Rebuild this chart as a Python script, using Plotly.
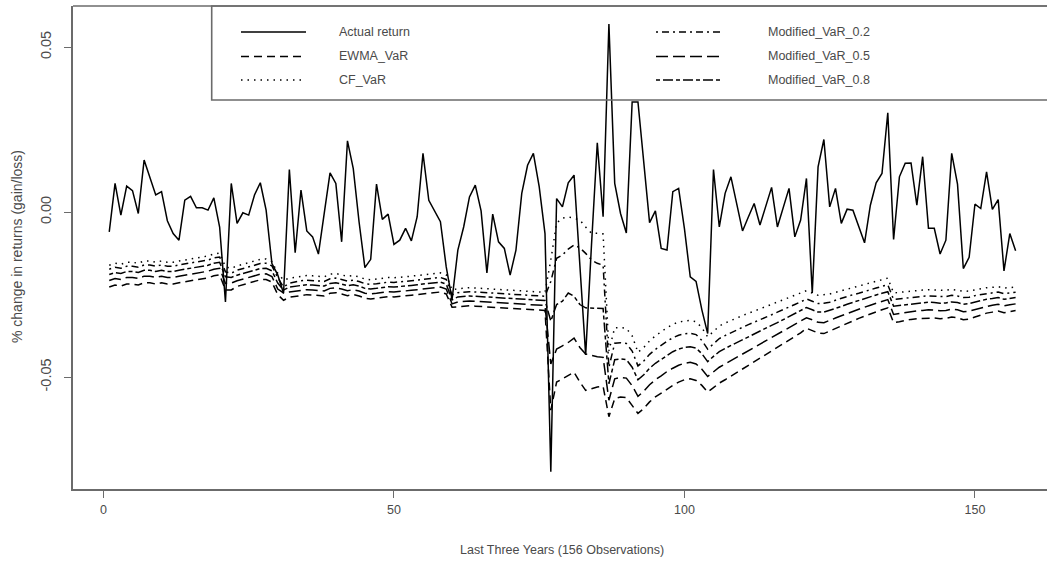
import plotly.graph_objects as go

# ---------------- data ----------------
observation = list(range(1, 158))

actual_return = [
    -0.0060, 0.0087, -0.0009, 0.0079, 0.0065, -0.0004, 0.0158, 0.0107, 0.0052, 0.0062,
    -0.0026, -0.0065, -0.0085, 0.0036, 0.0048, 0.0013, 0.0013, 0.0006, 0.0043, -0.0045,
    -0.0272, 0.0087, -0.0034, -0.0002, -0.0009, 0.0052, 0.0089, 0.0006, -0.0156, -0.0190,
    -0.0246, 0.0129, -0.0123, 0.0067, -0.0057, -0.0075, -0.0127, -0.0004, 0.0119, 0.0087,
    -0.0090, 0.0216, 0.0132, -0.0030, -0.0168, -0.0143, 0.0085, -0.0022, -0.0006, -0.0098,
    -0.0085, -0.0049, -0.0087, -0.0014, 0.0178, 0.0036, 0.0001, -0.0029, -0.0166, -0.0265,
    -0.0115, -0.0045, 0.0046, 0.0082, 0.0004, -0.0184, -0.0006, -0.0090, -0.0110, -0.0191,
    -0.0115, 0.0057, 0.0142, 0.0178, 0.0077, -0.0065, -0.0787, 0.0041, 0.0016, 0.0089,
    0.0112, -0.0150, -0.0433, -0.0100, 0.0210, -0.0014, 0.0570, 0.0087, -0.0004, -0.0063,
    0.0334, 0.0334, 0.0150, -0.0032, 0.0004, -0.0110, -0.0115, 0.0062, 0.0072, -0.0050,
    -0.0196, -0.0210, -0.0296, -0.0368, 0.0129, -0.0045, 0.0057, 0.0107, 0.0025, -0.0057,
    -0.0015, 0.0026, -0.0039, 0.0016, 0.0075, -0.0045, 0.0010, 0.0072, -0.0075, -0.0024,
    0.0102, -0.0245, 0.0137, 0.0220, 0.0016, 0.0072, -0.0034, 0.0009, 0.0006, -0.0045,
    -0.0093, 0.0021, 0.0089, 0.0117, 0.0301, -0.0083, 0.0107, 0.0148, 0.0149, 0.0021,
    0.0168, -0.0049, -0.0049, -0.0127, -0.0085, 0.0178, 0.0085, -0.0171, -0.0137, 0.0024,
    0.0011, 0.0122, 0.0008, 0.0038, -0.0178, -0.0065, -0.0117,
]

cf_var = [
    -0.0161, -0.0155, -0.0158, -0.0152, -0.0152, -0.0155, -0.0148, -0.0148, -0.0152, -0.0148,
    -0.0152, -0.0152, -0.0148, -0.0145, -0.0142, -0.0139, -0.0136, -0.0133, -0.0127, -0.0124,
    -0.0166, -0.0170, -0.0163, -0.0158, -0.0152, -0.0147, -0.0143, -0.0142, -0.0150, -0.0185,
    -0.0206, -0.0200,
    -0.0197, -0.0194, -0.0192, -0.0193, -0.0195, -0.0196, -0.0188, -0.0186, -0.0190, -0.0195,
    -0.0192, -0.0196, -0.0203, -0.0205, -0.0203, -0.0200, -0.0198, -0.0199, -0.0198, -0.0196,
    -0.0194, -0.0192, -0.0190, -0.0187, -0.0185, -0.0184, -0.0190,
    -0.0236, -0.0232, -0.0230, -0.0229, -0.0230, -0.0231, -0.0233, -0.0234, -0.0233, -0.0234,
    -0.0236, -0.0238, -0.0237, -0.0238, -0.0240, -0.0241, -0.0243,
    -0.0145, -0.0033, -0.0018, -0.0015, -0.0018, -0.0024, -0.0045, -0.0064, -0.0064, -0.0066,
    -0.0420,
    -0.0350, -0.0350, -0.0352, -0.0375, -0.0425, -0.0410, -0.0390, -0.0375, -0.0362, -0.0350,
    -0.0340, -0.0333, -0.0330, -0.0328, -0.0332, -0.0350, -0.0378, -0.0360, -0.0345, -0.0336,
    -0.0328, -0.0320, -0.0313, -0.0306, -0.0300, -0.0293, -0.0286, -0.0280, -0.0273, -0.0267,
    -0.0260, -0.0253, -0.0246, -0.0238,
    -0.0245, -0.0252, -0.0250, -0.0248, -0.0243, -0.0238, -0.0233, -0.0228, -0.0224, -0.0219,
    -0.0214, -0.0210, -0.0205, -0.0200,
    -0.0245, -0.0243, -0.0240, -0.0238, -0.0236, -0.0236, -0.0235, -0.0236, -0.0238, -0.0237,
    -0.0234, -0.0236, -0.0240, -0.0239, -0.0235, -0.0232, -0.0229, -0.0228, -0.0226, -0.0230,
    -0.0228, -0.0227,
]

modified_var_02 = [
    -0.0173, -0.0167, -0.0170, -0.0164, -0.0164, -0.0167, -0.0160, -0.0160, -0.0164, -0.0160,
    -0.0164, -0.0164, -0.0160, -0.0157, -0.0154, -0.0151, -0.0148, -0.0145, -0.0139, -0.0136,
    -0.0181, -0.0185, -0.0176, -0.0171, -0.0165, -0.0160, -0.0156, -0.0155, -0.0163, -0.0199,
    -0.0227, -0.0215,
    -0.0211, -0.0208, -0.0206, -0.0207, -0.0209, -0.0210, -0.0202, -0.0200, -0.0204, -0.0209,
    -0.0206, -0.0210, -0.0217, -0.0219, -0.0217, -0.0214, -0.0212, -0.0213, -0.0212, -0.0210,
    -0.0208, -0.0206, -0.0204, -0.0201, -0.0199, -0.0198, -0.0204,
    -0.0251, -0.0244, -0.0242, -0.0241, -0.0242, -0.0243, -0.0245, -0.0246, -0.0245, -0.0246,
    -0.0248, -0.0250, -0.0249, -0.0250, -0.0252, -0.0253, -0.0255,
    -0.0210, -0.0140, -0.0130, -0.0112, -0.0100, -0.0108, -0.0125, -0.0145, -0.0155, -0.0161,
    -0.0470,
    -0.0397, -0.0396, -0.0398, -0.0421, -0.0466, -0.0451, -0.0431, -0.0416, -0.0403, -0.0391,
    -0.0381, -0.0373, -0.0369, -0.0367, -0.0371, -0.0389, -0.0415, -0.0398, -0.0383, -0.0374,
    -0.0365, -0.0357, -0.0349, -0.0341, -0.0334, -0.0326, -0.0318, -0.0311, -0.0303, -0.0296,
    -0.0288, -0.0280, -0.0272, -0.0263,
    -0.0270, -0.0277, -0.0276, -0.0273, -0.0267, -0.0261, -0.0256, -0.0250, -0.0246, -0.0240,
    -0.0235, -0.0230, -0.0225, -0.0220,
    -0.0265, -0.0263, -0.0259, -0.0257, -0.0255, -0.0255, -0.0254, -0.0255, -0.0257, -0.0256,
    -0.0252, -0.0254, -0.0259, -0.0258, -0.0253, -0.0250, -0.0246, -0.0245, -0.0242, -0.0247,
    -0.0244, -0.0243,
]

modified_var_08 = [
    -0.0189, -0.0183, -0.0186, -0.0180, -0.0180, -0.0183, -0.0176, -0.0176, -0.0180, -0.0176,
    -0.0180, -0.0180, -0.0176, -0.0173, -0.0170, -0.0167, -0.0164, -0.0161, -0.0155, -0.0152,
    -0.0196, -0.0198, -0.0191, -0.0186, -0.0180, -0.0175, -0.0171, -0.0170, -0.0178, -0.0215,
    -0.0236, -0.0227,
    -0.0225, -0.0222, -0.0220, -0.0221, -0.0223, -0.0224, -0.0216, -0.0214, -0.0218, -0.0223,
    -0.0220, -0.0224, -0.0231, -0.0233, -0.0231, -0.0228, -0.0226, -0.0227, -0.0226, -0.0224,
    -0.0222, -0.0220, -0.0218, -0.0215, -0.0213, -0.0212, -0.0218,
    -0.0266, -0.0257, -0.0255, -0.0254, -0.0255, -0.0256, -0.0258, -0.0259, -0.0258, -0.0259,
    -0.0261, -0.0263, -0.0262, -0.0263, -0.0265, -0.0266, -0.0268,
    -0.0330, -0.0280, -0.0270, -0.0245, -0.0255, -0.0280, -0.0290, -0.0290, -0.0291, -0.0292,
    -0.0520,
    -0.0447, -0.0445, -0.0447, -0.0470, -0.0508, -0.0493, -0.0473, -0.0458, -0.0446, -0.0433,
    -0.0423, -0.0415, -0.0410, -0.0408, -0.0412, -0.0429, -0.0453, -0.0437, -0.0423, -0.0413,
    -0.0404, -0.0395, -0.0386, -0.0377, -0.0369, -0.0360, -0.0351, -0.0343, -0.0335, -0.0326,
    -0.0318, -0.0309, -0.0300, -0.0289,
    -0.0296, -0.0303, -0.0303, -0.0298, -0.0292, -0.0286, -0.0279, -0.0273, -0.0268, -0.0262,
    -0.0256, -0.0251, -0.0246, -0.0241,
    -0.0285, -0.0283, -0.0280, -0.0277, -0.0275, -0.0275, -0.0273, -0.0274, -0.0276, -0.0275,
    -0.0272, -0.0274, -0.0279, -0.0277, -0.0272, -0.0268, -0.0264, -0.0262, -0.0259, -0.0264,
    -0.0261, -0.0259,
]

modified_var_05 = [
    -0.0207, -0.0201, -0.0204, -0.0198, -0.0198, -0.0201, -0.0194, -0.0194, -0.0198, -0.0194,
    -0.0198, -0.0198, -0.0194, -0.0191, -0.0188, -0.0185, -0.0182, -0.0179, -0.0173, -0.0170,
    -0.0216, -0.0215, -0.0208, -0.0203, -0.0197, -0.0192, -0.0188, -0.0187, -0.0195, -0.0233,
    -0.0245, -0.0242,
    -0.0240, -0.0237, -0.0235, -0.0236, -0.0238, -0.0239, -0.0231, -0.0229, -0.0233, -0.0238,
    -0.0235, -0.0239, -0.0246, -0.0248, -0.0246, -0.0243, -0.0241, -0.0242, -0.0241, -0.0239,
    -0.0237, -0.0235, -0.0233, -0.0230, -0.0228, -0.0227, -0.0233,
    -0.0278, -0.0272, -0.0270, -0.0269, -0.0270, -0.0271, -0.0273, -0.0274, -0.0273, -0.0274,
    -0.0276, -0.0278, -0.0277, -0.0278, -0.0280, -0.0281, -0.0283,
    -0.0460, -0.0415, -0.0405, -0.0395, -0.0382, -0.0410, -0.0430, -0.0435, -0.0438, -0.0440,
    -0.0570,
    -0.0505, -0.0501, -0.0503, -0.0526, -0.0558, -0.0543, -0.0523, -0.0508, -0.0496, -0.0483,
    -0.0473, -0.0464, -0.0458, -0.0455, -0.0460, -0.0476, -0.0498, -0.0484, -0.0470, -0.0460,
    -0.0450, -0.0440, -0.0430, -0.0420, -0.0410, -0.0400, -0.0390, -0.0381, -0.0372, -0.0362,
    -0.0352, -0.0342, -0.0332, -0.0320,
    -0.0326, -0.0334, -0.0335, -0.0329, -0.0321, -0.0314, -0.0307, -0.0301, -0.0295, -0.0288,
    -0.0282, -0.0276, -0.0271, -0.0265,
    -0.0310, -0.0307, -0.0303, -0.0301, -0.0299, -0.0298, -0.0296, -0.0297, -0.0299, -0.0298,
    -0.0294, -0.0296, -0.0302, -0.0300, -0.0295, -0.0290, -0.0285, -0.0282, -0.0279, -0.0284,
    -0.0281, -0.0278,
]

ewma_var = [
    -0.0227, -0.0221, -0.0224, -0.0218, -0.0218, -0.0221, -0.0214, -0.0214, -0.0218, -0.0214,
    -0.0218, -0.0218, -0.0214, -0.0211, -0.0208, -0.0205, -0.0202, -0.0199, -0.0193, -0.0190,
    -0.0236, -0.0236, -0.0225, -0.0220, -0.0214, -0.0209, -0.0205, -0.0204, -0.0212, -0.0250,
    -0.0267, -0.0258,
    -0.0255, -0.0252, -0.0250, -0.0251, -0.0253, -0.0254, -0.0246, -0.0244, -0.0248, -0.0253,
    -0.0250, -0.0254, -0.0261, -0.0263, -0.0261, -0.0258, -0.0256, -0.0257, -0.0256, -0.0254,
    -0.0252, -0.0250, -0.0248, -0.0245, -0.0243, -0.0242, -0.0248,
    -0.0288, -0.0287, -0.0285, -0.0284, -0.0285, -0.0286, -0.0288, -0.0289, -0.0288, -0.0289,
    -0.0291, -0.0293, -0.0292, -0.0293, -0.0295, -0.0296, -0.0298,
    -0.0600, -0.0515, -0.0505, -0.0495, -0.0485, -0.0515, -0.0540, -0.0535, -0.0530, -0.0528,
    -0.0620,
    -0.0565, -0.0560, -0.0562, -0.0585, -0.0610, -0.0595, -0.0575, -0.0560, -0.0548, -0.0535,
    -0.0525, -0.0515, -0.0508, -0.0505, -0.0510, -0.0525, -0.0545, -0.0532, -0.0518, -0.0508,
    -0.0497, -0.0486, -0.0475, -0.0464, -0.0453, -0.0442, -0.0431, -0.0420, -0.0410, -0.0399,
    -0.0388, -0.0377, -0.0366, -0.0352,
    -0.0358, -0.0366, -0.0368, -0.0360, -0.0352, -0.0344, -0.0336, -0.0329, -0.0322, -0.0315,
    -0.0308, -0.0302, -0.0296, -0.0290,
    -0.0335, -0.0332, -0.0328, -0.0325, -0.0323, -0.0322, -0.0320, -0.0321, -0.0323, -0.0322,
    -0.0318, -0.0320, -0.0326, -0.0324, -0.0318, -0.0312, -0.0306, -0.0303, -0.0300, -0.0305,
    -0.0302, -0.0298,
]

x_ticks = [0, 50, 100, 150]
y_ticks = [-0.05, 0.0, 0.05]
y_tick_labels = ["-0.05", "0.00", "0.05"]

legend_col1 = ["Actual return", "EWMA_VaR", "CF_VaR"]
legend_col2 = ["Modified_VaR_0.2", "Modified_VaR_0.5", "Modified_VaR_0.8"]

# ---------------- styles ----------------
FONT = "Liberation Sans, Arial, sans-serif"
TXT = "#4a4a4a"
AXC = "#6b6b6b"
DASH = {
    "Actual return": "solid",
    "EWMA_VaR": "8px,5px",
    "CF_VaR": "1.5px,5px",
    "Modified_VaR_0.2": "2px,4px,7px,4px",
    "Modified_VaR_0.5": "12px,5px",
    "Modified_VaR_0.8": "4px,3px,10px,3px",
}

series = [
    ("Actual return", actual_return),
    ("EWMA_VaR", ewma_var),
    ("CF_VaR", cf_var),
    ("Modified_VaR_0.2", modified_var_02),
    ("Modified_VaR_0.5", modified_var_05),
    ("Modified_VaR_0.8", modified_var_08),
]

W, H = 1047, 563
ML, MR, MT, MB = 73, 0, 6, 74
PW, PH = W - ML - MR, H - MT - MB

fig = go.Figure()
for name, vals in series:
    fig.add_trace(go.Scatter(
        x=observation[:len(vals)], y=vals, mode="lines", name=name,
        line=dict(color="black", width=1.5, dash=DASH[name]),
        showlegend=False, hoverinfo="skip",
    ))

def px_x(p):
    return (p - ML) / PW

def px_y(p):
    return (H - MB - p) / PH

shapes = []
annotations = []
# top border of the plot box (right side falls outside the picture)
shapes.append(dict(type="line", xref="paper", yref="paper", x0=0, x1=1.02, y0=1, y1=1,
                   line=dict(color=AXC, width=1.6)))
# legend box
shapes.append(dict(type="rect", xref="paper", yref="paper",
                   x0=px_x(211.7), x1=1.05, y0=px_y(100), y1=1,
                   line=dict(color=AXC, width=1.6), fillcolor="rgba(0,0,0,0)"))
rows_y = [32, 56.5, 80]
for names, lx0, lx1, tx in [(legend_col1, 241, 306, 337), (legend_col2, 656, 722, 766)]:
    for name, ry in zip(names, rows_y):
        shapes.append(dict(type="line", xref="paper", yref="paper",
                           x0=px_x(lx0), x1=px_x(lx1), y0=px_y(ry), y1=px_y(ry),
                           line=dict(color="black", width=1.5, dash=DASH[name])))
        annotations.append(dict(text=name, xref="paper", yref="paper",
                                x=px_x(tx), y=px_y(ry), xanchor="left", yanchor="middle",
                                showarrow=False, font=dict(family=FONT, size=12.5, color=TXT)))

# axis titles
annotations.append(dict(text="Last Three Years (156 Observations)", xref="paper", yref="paper",
                        x=px_x(562), y=px_y(550), xanchor="center", yanchor="middle",
                        showarrow=False, font=dict(family=FONT, size=12.5, color=TXT)))
annotations.append(dict(text="% change in returns (gain/loss)", xref="paper", yref="paper",
                        x=px_x(17), y=px_y(247), xanchor="center", yanchor="middle",
                        textangle=-90, showarrow=False,
                        font=dict(family=FONT, size=14, color=TXT)))

fig.update_layout(
    width=W, height=H,
    margin=dict(l=ML, r=MR, t=MT, b=MB, autoexpand=False),
    paper_bgcolor="white", plot_bgcolor="white",
    shapes=shapes, annotations=annotations,
    showlegend=False,
)
fig.update_xaxes(
    range=[-5.24, -5.24 + PW / 5.81],
    tickvals=x_ticks, ticktext=[str(v) for v in x_ticks],
    ticks="outside", ticklen=7, tickwidth=1.3, tickcolor=AXC,
    showline=True, linecolor=AXC, linewidth=1.6, mirror=False,
    showgrid=False, zeroline=False,
    tickfont=dict(family=FONT, size=12.5, color=TXT),
    ticklabelstandoff=1,
)
fig.update_yaxes(
    range=[-0.0839, -0.0839 + PH / 3300.0],
    tickvals=y_ticks, ticktext=y_tick_labels,
    ticks="outside", ticklen=7, tickwidth=1.3, tickcolor=AXC,
    showline=True, linecolor=AXC, linewidth=1.6, mirror=False,
    showgrid=False, zeroline=False, tickangle=-90,
    tickfont=dict(family=FONT, size=14.5, color=TXT),
    ticklabelstandoff=7,
)

fig.write_html("out.html", config={"displayModeBar": False},
               post_script="document.body.style.margin='0';")
